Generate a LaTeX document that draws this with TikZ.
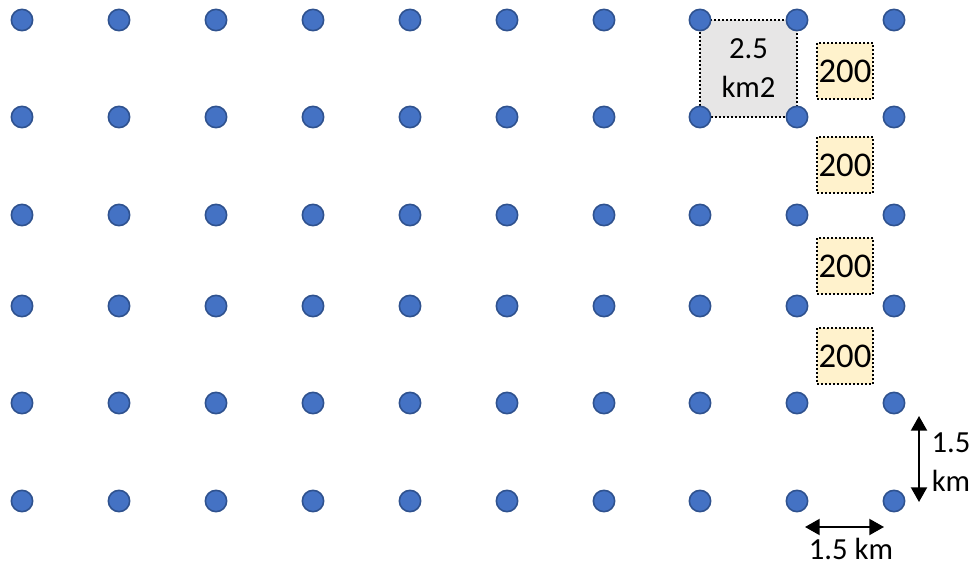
\documentclass[tikz,border=0pt]{standalone}
\usepackage{fontspec}
\setmainfont{Carlito}
\usetikzlibrary{arrows.meta,positioning}
\definecolor{dotblue}{HTML}{4472C4}
\definecolor{dotedge}{HTML}{2F528F}
\definecolor{cellgray}{HTML}{E7E6E6}
\definecolor{cellyellow}{HTML}{FFF2CC}

\begin{document}
\begin{tikzpicture}[x=0.75pt, y=-0.75pt,
		site/.style={circle, fill=dotblue, draw=dotedge, line width=1.2pt, minimum size=16pt, inner sep=0pt},
		cell/.style={draw=black, line width=1.6pt, dash pattern=on 1.5pt off 1.5pt},
		pop/.style={cell, fill=cellyellow, minimum width=42pt, minimum height=42pt, inner sep=0pt, font=\fontsize{26}{28}\selectfont},
		dim/.style={{Triangle[length=11pt, width=12pt]}-{Triangle[length=11pt, width=12pt]}, line width=1.5pt},
		lbl/.style={font=\fontsize{23}{29}\selectfont, align=center, inner sep=0pt}]
		\useasboundingbox (0,0) rectangle (976,567);
		
		% Area of one cell
		\fill[cellgray] (700,20) rectangle (797,117);
		\draw[cell] (700,20) rectangle (797,117);
		\node[lbl] (area) at (748.5,68) {2.5\\km2};
		
		% Grid of sites
		\foreach \y [count=\j] in {20, 117, 215, 306, 403, 501} {
			\foreach \x [count=\i] in {22, 119, 216, 313, 410, 507, 604, 700, 797, 894} {
				\node[site] (s-\i-\j) at (\x,\y) {};
			}
		}
		
		% Counts
		\foreach \y/\n in {71/a, 165/b, 266/c, 356/d} {
			\node[pop] (pop-\n) at (845,\y) {200};
		}
		
		% Spacing
		\coordinate (vtop) at (919,416);
		\coordinate (vbot) at (919,502);
		\draw[dim] (vtop) -- (vbot);
		\node[lbl] (vlab) at (951,462) {1.5\\km};
		
		\coordinate (hleft) at (805,527);
		\coordinate (hright) at (884,527);
		\draw[dim] (hleft) -- (hright);
		\node[lbl] (hlab) at (851,549) {1.5 km};
	\end{tikzpicture}
\end{document}
